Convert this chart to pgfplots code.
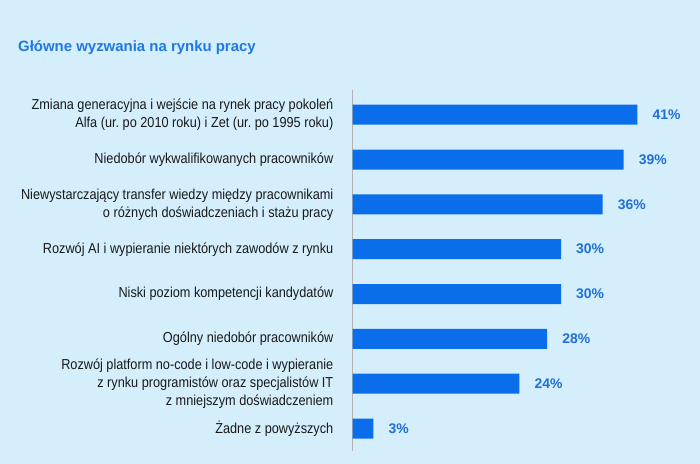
\documentclass[border=0pt]{standalone}
\usepackage{fontspec}
\setmainfont{Liberation Sans}
\newfontfamily\condfont[FakeStretch=0.88]{Liberation Sans}
\usepackage{pgfplots}
\pgfplotsset{compat=1.18}
\frenchspacing
\definecolor{bg}{HTML}{D4EEFC}
\definecolor{barc}{HTML}{0A6EEB}
\definecolor{val}{HTML}{1F6FD6}
\definecolor{ttl}{HTML}{2079E3}
\definecolor{txt}{HTML}{1A1A1A}
\begin{document}
\frenchspacing
\begin{tikzpicture}
\fill[bg] (0bp,0bp) rectangle (700bp,464bp);
\node[anchor=west, inner sep=0, font=\fontsize{15}{18}\selectfont\bfseries, text=ttl] at (18bp,416bp) {Główne wyzwania na rynku pracy};
\begin{axis}[
  at={(352.5bp,374bp)}, anchor=north west,
  scale only axis, width=312.75bp, height=361bp,
  xmin=0, xmax=45, ymin=-0.55, ymax=7.5, y dir=reverse,
  xbar, bar width=20bp,
  axis x line=none, axis y line*=left,
  axis line style={draw=gray!60, line width=1bp, -},
  ytick={0,...,7}, major tick length=0,
  yticklabels={
    {Zmiana generacyjna i wejście na rynek pracy pokoleń\\Alfa (ur. po 2010 roku) i Zet (ur. po 1995 roku)},
    {Niedobór wykwalifikowanych pracowników},
    {Niewystarczający transfer wiedzy między pracownikami\\o różnych doświadczeniach i stażu pracy},
    {Rozwój AI i wypieranie niektórych zawodów z rynku},
    {Niski poziom kompetencji kandydatów},
    {Ogólny niedobór pracowników},
    {Rozwój platform no-code i low-code i wypieranie\\z rynku programistów oraz specjalistów IT\\z mniejszym doświadczeniem},
    {Żadne z powyższych}},
  yticklabel style={align=right, inner sep=0, xshift=-19bp, font=\condfont\fontsize{14.5}{18}\selectfont\frenchspacing, text=txt},
  point meta=x,
  /pgf/number format/assume math mode=true,
  nodes near coords={\pgfmathprintnumber{\pgfplotspointmeta}\%},
  nodes near coords style={anchor=west, inner sep=0, xshift=15bp, font=\fontsize{14}{16}\selectfont\bfseries, text=val},
  clip=false,
]
\addplot[fill=barc, draw=none] coordinates {(41,0) (39,1) (36,2) (30,3) (30,4) (28,5) (24,6) (3,7)};
\end{axis}
\end{tikzpicture}
\end{document}
